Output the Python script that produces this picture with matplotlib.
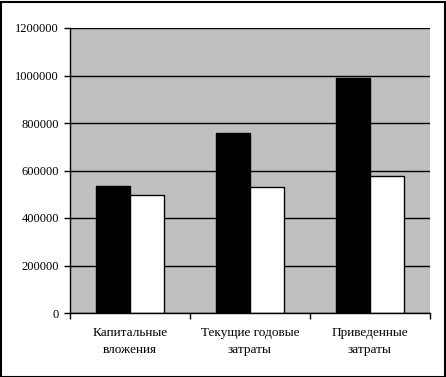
import matplotlib
matplotlib.use("Agg")
import matplotlib.pyplot as plt
import numpy as np
from matplotlib.patches import Rectangle

categories = ["Капитальные\nвложения", "Текущие годовые\nзатраты", "Приведенные\nзатраты"]
series_a = [535000, 760000, 988000]
series_b = [495000, 530000, 575000]
yticks = [0, 200000, 400000, 600000, 800000, 1000000, 1200000]

plt.rcParams['font.family'] = ['Liberation Serif', 'DejaVu Serif']

fig = plt.figure(figsize=(4.46, 3.77), dpi=100)
fig.patches.append(Rectangle((0.5/446, 0.5/377), 1 - 2/446, 1 - 2/377, transform=fig.transFigure,
                             fill=False, edgecolor='black', linewidth=1.5))
W, H = 446, 377
ax = fig.add_axes([70/W, (H-313)/H, 360/W, 285/H])
ax.set_facecolor('#C0C0C0')

x = np.arange(len(categories))
bw = 1/3.5
ax.bar(x - bw/2, series_a, width=bw, color='black', edgecolor='black', linewidth=1, zorder=3)
ax.bar(x + bw/2, series_b, width=bw, color='white', edgecolor='black', linewidth=1, zorder=3)

ax.set_xlim(-0.5, len(categories) - 0.5)
ax.set_ylim(0, 1200000)
ax.set_yticks(yticks)
ax.set_yticklabels([str(v) for v in yticks], fontsize=9)
ax.yaxis.grid(True, color='black', linewidth=1, zorder=1)
ax.set_axisbelow(True)

ax.set_xticks(np.arange(-0.5, len(categories), 1.0))
ax.set_xticklabels([])
ax.set_xticks(x, minor=True)
ax.set_xticklabels(categories, minor=True, fontsize=9.5, linespacing=1.55)
ax.tick_params(axis='x', which='minor', length=0, pad=10)
ax.tick_params(axis='x', which='major', direction='out', length=4, width=1)
ax.tick_params(axis='y', direction='out', length=4, width=1, pad=4)

for s in ['top', 'right']:
    ax.spines[s].set_visible(False)
for s in ['left', 'bottom']:
    ax.spines[s].set_linewidth(1)
    ax.spines[s].set_zorder(4)

fig.savefig("out.png", dpi=100)
